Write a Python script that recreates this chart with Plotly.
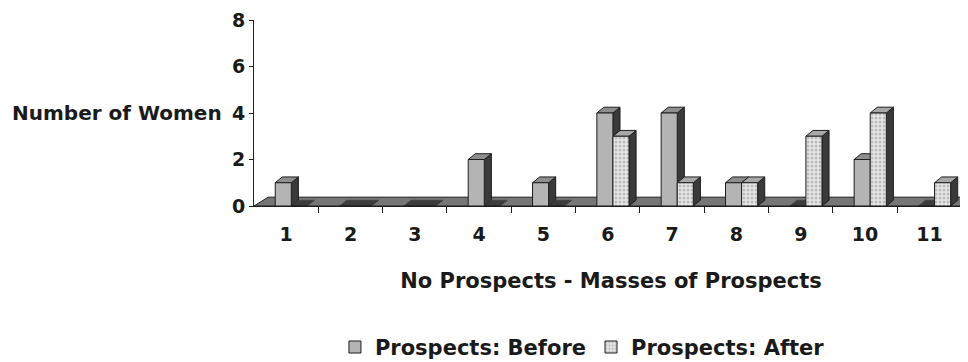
import plotly.graph_objects as go

# ---- data ----
categories = [1, 2, 3, 4, 5, 6, 7, 8, 9, 10, 11]
tick_labels = ["1", "2", "3", "4", "5", "6", "7", "8", "9", "10", "11"]
before = [1, 0, 0, 2, 1, 4, 4, 1, 0, 2, 0]
after = [0, 0, 0, 0, 0, 3, 1, 1, 3, 4, 1]
y_ticks = [0, 2, 4, 6, 8]

# ---- styling constants ----
BAR_W = 0.25
OFF_BEFORE = -0.17
OFF_AFTER = 0.08
DX = 0.11      # 3D depth (x units)
DY = 0.25      # 3D depth (y units)
FLOOR_DX = 0.22
FLOOR_DY = 0.38
FONT = dict(family="DejaVu Sans", size=21, color="#1a1a1a", weight="bold")
TICKFONT = dict(family="DejaVu Sans", size=19, color="#1a1a1a", weight="bold")
EDGE = "#1e1e1e"


def poly(pts):
    return "M " + " L ".join(f"{x},{y}" for x, y in pts) + " Z"


fig = go.Figure()
fig.add_trace(go.Bar(
    x=categories, y=before, name="Prospects: Before",
    width=BAR_W, offset=OFF_BEFORE,
    marker=dict(color="#b4b4b4", line=dict(color=EDGE, width=1)),
))
fig.add_trace(go.Bar(
    x=categories, y=after, name="Prospects: After",
    width=BAR_W, offset=OFF_AFTER,
    marker=dict(color="#e4e4e4",
                pattern=dict(shape=".", fgcolor="#8c8c8c", bgcolor="#e8e8e8",
                             size=4, solidity=0.45),
                line=dict(color=EDGE, width=1)),
))

shapes = []
# floor slab
x_lo, x_hi = 0.5, categories[-1] + 0.9
shapes.append(dict(type="path", xref="x", yref="y", layer="below",
                   path=poly([(x_lo, 0), (x_hi, 0), (x_hi + FLOOR_DX, FLOOR_DY),
                              (x_lo + FLOOR_DX, FLOOR_DY)]),
                   fillcolor="#767676", line=dict(color=EDGE, width=1)))

for i, c in enumerate(categories):
    for vals, off, topc in ((before, OFF_BEFORE, "#8e8e8e"), (after, OFF_AFTER, "#a8a8a8")):
        v = vals[i]
        x0 = c + off
        x1 = x0 + BAR_W
        if v > 0:
            shapes.append(dict(type="path", xref="x", yref="y", layer="below",
                               path=poly([(x1, 0), (x1 + DX, DY), (x1 + DX, v + DY), (x1, v)]),
                               fillcolor="#3a3a3a", line=dict(color=EDGE, width=1)))
            shapes.append(dict(type="path", xref="x", yref="y", layer="below",
                               path=poly([(x0, v), (x1, v), (x1 + DX, v + DY), (x0 + DX, v + DY)]),
                               fillcolor=topc, line=dict(color=EDGE, width=1)))
        else:
            shapes.append(dict(type="path", xref="x", yref="y", layer="below",
                               path=poly([(x0, 0), (x1, 0), (x1 + DX, DY), (x0 + DX, DY)]),
                               fillcolor="#3c3c3c", line=dict(color="#3c3c3c", width=0.5)))

# the page body adds an 8px offset, so the figure is sized to fit the window
fig.update_layout(
    width=960, height=354,
    margin=dict(l=246, r=0, t=12, b=156, autoexpand=False),
    paper_bgcolor="white", plot_bgcolor="white",
    font=FONT,
    barmode="overlay",
    shapes=shapes,
    showlegend=True,
    legend=dict(orientation="h", x=0.46, xanchor="center", y=-0.76, yanchor="middle",
                font=FONT, itemwidth=30, traceorder="normal"),
    xaxis=dict(range=[0.5, 11.6], tickmode="array", tickvals=categories, ticktext=tick_labels,
               ticks="", showline=True, linecolor=EDGE, linewidth=1, showgrid=False,
               zeroline=False, ticklabelstandoff=11, automargin=False, tickfont=TICKFONT,
               minor=dict(tickmode="array", tickvals=[c + 0.5 for c in categories],
                          ticks="outside", ticklen=6, tickcolor=EDGE, showgrid=False),
               title=dict(text="No Prospects - Masses of Prospects", font=FONT, standoff=29)),
    yaxis=dict(range=[0, 8], tickmode="array", tickvals=y_ticks, ticks="outside", ticklen=4,
               tickcolor=EDGE, showline=True, linecolor=EDGE, linewidth=1, showgrid=False,
               zeroline=False, automargin=False, tickfont=TICKFONT,
               ticklabeloverflow="allow"),
    annotations=[dict(text="Number of Women", xref="paper", yref="y", x=0, y=4,
                      xanchor="right", yanchor="middle", xshift=-30, showarrow=False,
                      font=dict(FONT, size=20))],
)

fig.write_html("out.html")
